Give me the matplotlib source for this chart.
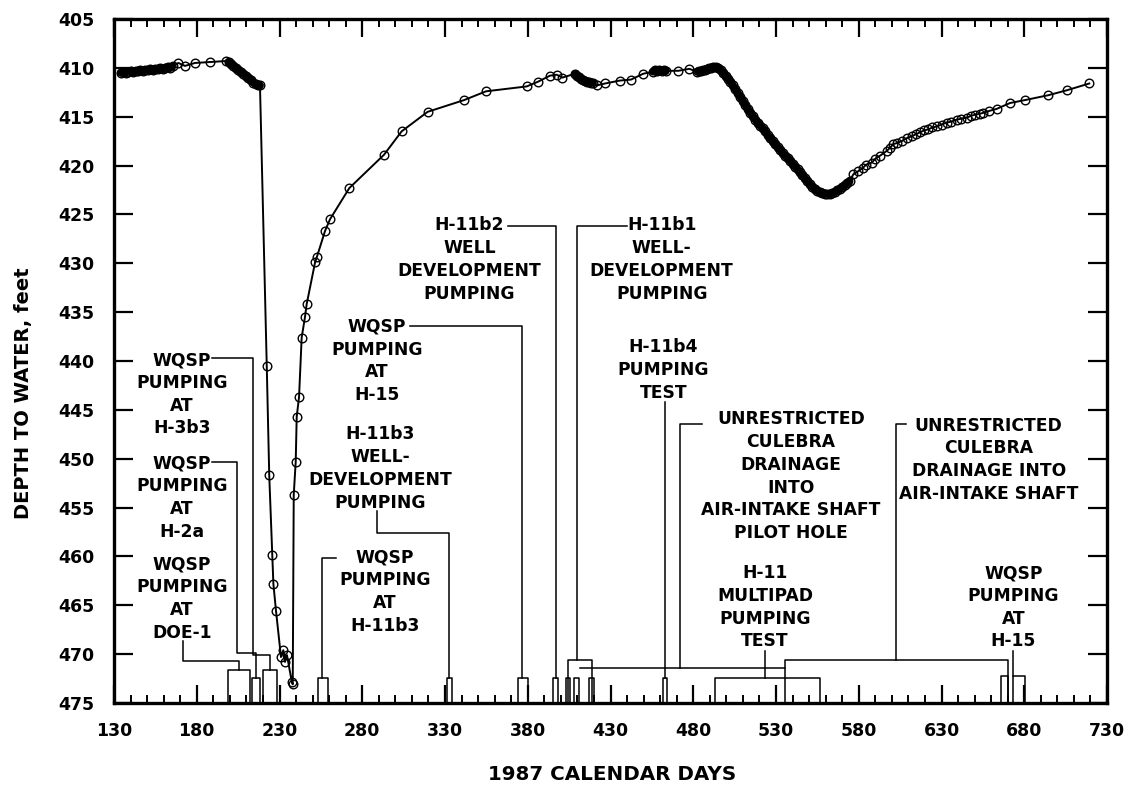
import matplotlib
matplotlib.use("Agg")
import matplotlib.pyplot as plt

# water-level record, 1987 calendar days vs depth to water (ft)
days = [
    134.0, 135.5, 137.0, 138.5, 140.0, 141.5, 143.0, 144.5, 146.0, 147.5, 149.0,
    150.5, 152.0, 153.5, 155.0, 156.5, 158.0, 159.5, 161.0, 162.5, 164.0, 165.5,
    168.9, 172.9, 178.9, 188.0, 197.7,
    199.2, 200.7, 202.2, 203.7, 205.2, 206.7, 208.2, 209.7, 211.2, 212.7, 214.2,
    215.7, 217.0, 218.2,
    222.3, 223.8, 225.6, 226.3, 227.9, 230.9, 232.3, 233.3, 234.5, 237.4, 238.0,
    238.6, 239.8, 240.4, 241.8, 243.4, 245.4, 246.4, 251.5, 252.5, 257.5, 260.5,
    272.2, 293.1, 303.8, 319.5, 341.5, 354.8, 379.4, 386.4, 393.4, 397.5, 400.9,
    408.5, 409.7, 410.9, 412.1, 413.3, 414.5, 415.7, 417.0, 418.2, 419.4,
    421.7, 426.7, 435.7, 442.4, 449.8,
    455.7, 457.0, 458.3, 459.6, 460.9, 462.2, 463.5, 471.0, 477.6,
    482.4, 483.6, 484.8, 486.0, 487.2, 488.4, 489.6, 490.8, 492.0,
    493.5, 495.0, 496.5, 498.0, 499.5, 501.0, 502.5, 504.0, 505.5, 507.0, 508.5,
    510.0, 511.5, 513.0, 514.5, 516.0, 517.5, 519.0, 520.5, 522.0, 523.5, 525.0,
    526.5, 528.0, 529.5, 531.0, 532.5, 534.0, 535.5, 537.0, 538.5, 540.0, 541.5,
    543.0, 544.5, 546.0, 547.5, 549.0, 550.5, 552.0, 553.5, 555.0, 556.5, 558.0,
    559.5, 561.0, 562.5, 564.0, 565.5, 567.0, 568.5, 570.0, 571.5, 573.0, 574.5,
    576.7, 579.5, 582.7, 584.5, 587.8, 590.0, 592.8, 596.9, 598.8, 600.9, 603.0,
    605.9, 609.0, 612.0, 614.5, 617.0, 619.5, 622.0, 624.5, 627.1, 630.0, 633.1,
    636.0, 639.2, 642.0, 645.2, 648.0, 650.2, 653.0, 655.3, 659.0, 663.3, 671.4,
    680.4, 694.5, 705.6, 719.3,
]
depth = [
    410.5, 410.4, 410.5, 410.4, 410.3, 410.4, 410.3, 410.3, 410.2, 410.3, 410.2,
    410.2, 410.1, 410.2, 410.1, 410.1, 410.0, 410.1, 410.0, 409.9, 410.0, 409.8,
    409.5, 409.8, 409.5, 409.4, 409.3,
    409.4, 409.6, 409.8, 410.0, 410.2, 410.4, 410.6, 410.8, 411.0, 411.2, 411.5,
    411.7, 411.8, 411.8,
    440.5, 451.7, 459.9, 462.8, 465.6, 470.3, 469.6, 470.8, 470.1, 472.8, 473.1,
    453.7, 450.3, 445.7, 443.7, 437.6, 435.5, 434.2, 429.9, 429.4, 426.7, 425.5,
    422.3, 418.9, 416.5, 414.5, 413.3, 412.4, 411.9, 411.4, 410.8, 410.7, 411.0,
    410.6, 410.8, 410.9, 411.1, 411.2, 411.3, 411.4, 411.4, 411.5, 411.5,
    411.8, 411.6, 411.3, 411.2, 410.6,
    410.4, 410.2, 410.3, 410.2, 410.3, 410.2, 410.3, 410.3, 410.1,
    410.4, 410.3, 410.3, 410.2, 410.2, 410.1, 410.0, 410.0, 409.9,
    409.9, 410.0, 410.2, 410.5, 410.8, 411.1, 411.4, 411.8, 412.2, 412.6, 413.0,
    413.4, 413.8, 414.2, 414.6, 414.9, 415.3, 415.6, 415.9, 416.2, 416.5, 416.9,
    417.2, 417.5, 417.8, 418.1, 418.4, 418.7, 419.0, 419.2, 419.5, 419.8, 420.1,
    420.4, 420.7, 421.0, 421.3, 421.6, 421.9, 422.2, 422.4, 422.6, 422.7, 422.8,
    422.9, 422.9, 422.9, 422.8, 422.7, 422.5, 422.4, 422.2, 422.0, 421.8, 421.6,
    420.9, 420.6, 420.2, 419.9, 419.7, 419.3, 419.0, 418.5, 418.2, 417.8, 417.7,
    417.5, 417.2, 417.0, 416.8, 416.6, 416.4, 416.3, 416.1, 416.0, 415.8, 415.6,
    415.5, 415.3, 415.2, 415.1, 414.9, 414.8, 414.7, 414.6, 414.4, 414.2, 413.6,
    413.3, 412.8, 412.3, 411.6,
]
# stretches where readings were so frequent the circles merge into a band
dense_spans = [(134.0, 165.5), (199.2, 218.2), (408.5, 419.4),
               (455.7, 463.5), (482.4, 574.5)]

# pumping / drainage periods (start day, end day, top of bracket in ft)
event_start = [199.1, 213.2, 220.0, 253.4, 331.0, 374.3, 395.5, 403.1, 407.9,
               417.0, 404.5, 461.5, 493.1, 535.4, 666.0, 673.4]
event_end = [212.2, 218.2, 228.5, 259.5, 334.0, 380.3, 398.5, 405.5, 410.9,
             420.0, 418.6, 463.9, 556.6, 670.2, 670.2, 680.5]
event_top = [471.6, 472.4, 471.6, 472.4, 472.4, 472.4, 472.4, 472.4, 472.4,
             472.4, 470.6, 472.4, 472.4, 470.6, 472.2, 472.2]

# labels: text, centre (day, ft), leader path as (days, ft)
labels = [
    ("WQSP\nPUMPING\nAT\nH-3b3", 171, 443.4,
     [189, 213.8, 213.8, 224.3, 224.3], [439.7, 439.7, 470.1, 470.1, 471.6]),
    ("WQSP\nPUMPING\nAT\nH-2a", 171, 454.0,
     [189, 204.3, 204.3, 215.5, 215.5], [450.3, 450.3, 469.9, 469.9, 472.4]),
    ("WQSP\nPUMPING\nAT\nDOE-1", 171, 464.3,
     [171.5, 171.5, 205.3, 205.3], [468.7, 470.7, 470.7, 471.6]),
    ("WQSP\nPUMPING\nAT\nH-15", 288.7, 440.0,
     [309, 376.5, 376.5], [436.4, 436.4, 472.4]),
    ("H-11b3\nWELL-\nDEVELOPMENT\nPUMPING", 290.7, 451.0,
     [288.8, 288.8, 332.5, 332.5], [455.4, 457.6, 457.6, 472.4]),
    ("WQSP\nPUMPING\nAT\nH-11b3", 293.7, 463.6,
     [264.0, 255.7, 255.7], [460.2, 460.2, 472.4]),
    ("H-11b2\nWELL\nDEVELOPMENT\nPUMPING", 344.8, 429.6,
     [368.3, 396.8, 396.8], [426.2, 426.2, 472.4]),
    ("H-11b1\nWELL-\nDEVELOPMENT\nPUMPING", 460.9, 429.6,
     [439.7, 410.0, 410.0], [426.2, 426.2, 470.6]),
    ("H-11b4\nPUMPING\nTEST", 462.0, 440.9,
     [462.7, 462.7], [444.2, 472.4]),
    ("UNRESTRICTED\nCULEBRA\nDRAINAGE\nINTO\nAIR-INTAKE SHAFT\nPILOT HOLE",
     539.0, 451.8, [485.0, 472.0, 472.0], [446.4, 446.4, 471.4]),
    ("H-11\nMULTIPAD\nPUMPING\nTEST", 523.4, 465.2,
     [523.4, 523.4], [469.7, 472.4]),
    ("UNRESTRICTED\nCULEBRA\nDRAINAGE INTO\nAIR-INTAKE SHAFT", 658.5, 450.1,
     [608.5, 602.5, 602.5], [446.4, 446.4, 470.6]),
    ("WQSP\nPUMPING\nAT\nH-15", 673.4, 465.2,
     [673.4, 673.4], [469.7, 472.2]),
]
pilot_hole_span = [411.6, 535.4]
pilot_hole_depth = 471.4

fig = plt.figure(figsize=(11.29, 7.85), dpi=100)
ax = fig.add_axes([114 / 1129, 1 - 703 / 785, 993 / 1129, 684 / 785])

ax.plot(days, depth, color="black", lw=1.4, marker="o", ms=6.2,
        mfc="none", mec="black", mew=1.0, zorder=3)
for lo, hi in dense_spans:
    sel = [(d, v) for d, v in zip(days, depth) if lo <= d <= hi]
    ax.plot([d for d, _ in sel], [v for _, v in sel], color="black", lw=5.5,
            solid_capstyle="round", zorder=3)

for s, e, top in zip(event_start, event_end, event_top):
    ax.plot([s, s, e, e], [475, top, top, 475], color="black", lw=1.1,
            clip_on=False)
ax.plot(pilot_hole_span, [pilot_hole_depth] * 2, color="black", lw=1.1)

for txt, x, y, lx, ly in labels:
    ax.text(x, y, txt, ha="center", va="center", multialignment="center",
            fontsize=12.3, fontweight="bold", linespacing=1.34)
    ax.plot(lx, ly, color="black", lw=1.1)

ax.set_xlim(130, 730)
ax.set_ylim(475, 405)
ax.set_xticks(range(130, 731, 50))
ax.set_xticks(range(130, 731, 10), minor=True)
ax.set_yticks(range(405, 476, 5))
ax.tick_params(axis="x", which="major", direction="in", length=13, width=1.6,
               top=True, bottom=True, labelsize=12.5, pad=14)
ax.tick_params(axis="x", which="minor", direction="in", length=6, width=1.4,
               top=True, bottom=True)
ax.tick_params(axis="y", direction="in", length=14, width=1.6, left=True,
               right=True, labelsize=12.5, pad=14)
for lab in ax.get_xticklabels() + ax.get_yticklabels():
    lab.set_fontweight("bold")
for sp in ax.spines.values():
    sp.set_linewidth(2.4)

ax.set_xlabel("1987 CALENDAR DAYS", fontsize=14.3, fontweight="bold")
ax.xaxis.set_label_coords(0.502, -0.09)
ax.set_ylabel("DEPTH TO WATER, feet", fontsize=14, fontweight="bold")
ax.yaxis.set_label_coords(-0.082, 0.453)

fig.savefig("out.png", dpi=100)
